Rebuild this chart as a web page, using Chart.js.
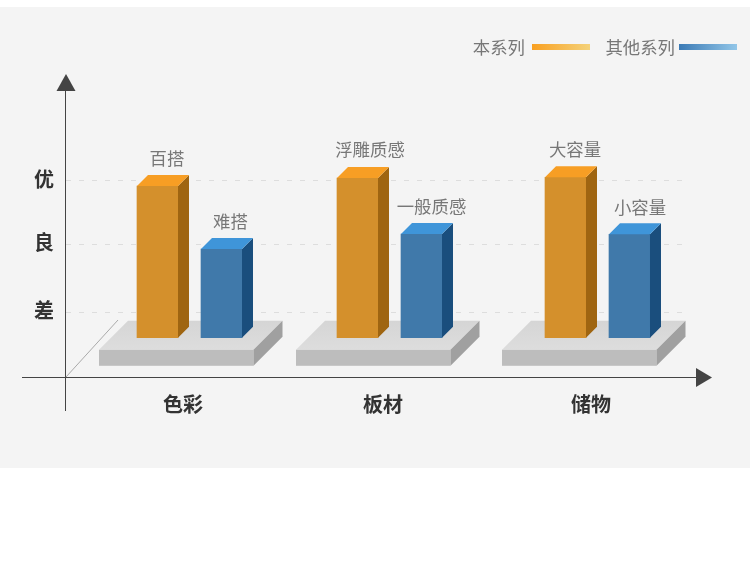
<!DOCTYPE html>
<html><head><meta charset="utf-8">
<style>html,body{margin:0;padding:0;background:#fff}canvas{display:block}</style>
<script src="https://cdn.jsdelivr.net/npm/chart.js@4/dist/chart.umd.min.js"></script>
</head><body><canvas id="c" width="750" height="567"></canvas>
<script>
const categories = ['色彩', '板材', '储物'];
const seriesNames = ['本系列', '其他系列'];
const thisSeries = [96.8, 101.9, 102.3];
const otherSeries = [56.6, 66.2, 66];
const thisLabels = ['百搭', '浮雕质感', '大容量'];
const otherLabels = ['难搭', '一般质感', '小容量'];
const qualityTicks = [16, 59.5, 100];
const qualityLabels = ['差', '良', '优'];

const FONT = '"Noto Sans CJK SC", sans-serif';
const DEPTH = 11;
const groupNudge = [20.17, 13.5, 14.83];
const platformLeft = [-90.5, -93.5, -95.5];
const labelNudge = [[-0.5, 2.5, -0.5], [-1, 0, 0.5]];
const labelLift = [[1, 2, 1], [1, 1, 0.5]];

class NudgedCategory extends Chart.CategoryScale {
  getPixelForValue(v) {
    const i = typeof v === 'number' ? v : this.parse(v);
    return super.getPixelForValue(v) + (groupNudge[i] || 0);
  }
}
NudgedCategory.id = 'nudgedCategory';
NudgedCategory.defaults = Chart.CategoryScale.defaults;
Chart.register(NudgedCategory);

function poly(ctx, pts, fill) {
  ctx.beginPath();
  pts.forEach((p, i) => i ? ctx.lineTo(p[0], p[1]) : ctx.moveTo(p[0], p[1]));
  ctx.closePath();
  ctx.fillStyle = fill;
  ctx.fill();
}

const scenery = {
  id: 'scenery',
  beforeDraw(chart) {
    const { ctx } = chart;
    ctx.save();
    ctx.fillStyle = '#ffffff';
    ctx.fillRect(0, 0, 750, 567);
    ctx.fillStyle = '#f4f4f4';
    ctx.fillRect(0, 7, 750, 461);
    ctx.restore();
  },
  beforeDatasetsDraw(chart) {
    const { ctx, scales, chartArea } = chart;
    const base = scales.y.getPixelForValue(0);
    const ax = chartArea.bottom, lf = chartArea.left;
    ctx.save();
    // axes
    ctx.strokeStyle = '#444';
    ctx.lineWidth = 1;
    ctx.beginPath();
    ctx.moveTo(lf - 44, ax + 0.5); ctx.lineTo(chartArea.right + 12, ax + 0.5);
    ctx.moveTo(lf - 0.5, ax + 34); ctx.lineTo(lf - 0.5, chartArea.top);
    ctx.stroke();
    poly(ctx, [[lf, chartArea.top - 16], [lf - 9.5, chartArea.top + 1], [lf + 9.5, chartArea.top + 1]], '#444');
    poly(ctx, [[chartArea.right + 26, ax + 0.5], [chartArea.right + 10, ax - 9], [chartArea.right + 10, ax + 10]], '#444');
    ctx.strokeStyle = '#aaa';
    ctx.beginPath();
    ctx.moveTo(lf, ax); ctx.lineTo(lf + 52, ax - 57);
    ctx.stroke();
    // platforms
    categories.forEach((c, i) => {
      const x = scales.x.getPixelForValue(i) + platformLeft[i];
      const w = 154.5, d = 29;
      const top = base + 12, bot = base + 28;
      const g = ctx.createLinearGradient(0, top - d, 0, top);
      g.addColorStop(0, '#d5d5d5'); g.addColorStop(1, '#dddddd');
      poly(ctx, [[x, top], [x + d, top - d], [x + w + d, top - d], [x + w, top]], g);
      ctx.fillStyle = '#bdbdbd';
      ctx.fillRect(x, top, w, bot - top);
      poly(ctx, [[x + w, top], [x + w + d, top - d], [x + w + d, bot - d + 0], [x + w, bot]], '#a0a0a0');
    });
    ctx.restore();
  },
  afterDatasetsDraw(chart) {
    const { ctx } = chart;
    const topCol = ['#f79e24', '#3f95d9'];
    const sideCol = ['#9f6511', '#1a4e7d'];
    const texts = [thisLabels, otherLabels];
    ctx.save();
    chart.data.datasets.forEach((ds, di) => {
      chart.getDatasetMeta(di).data.forEach((bar, i) => {
        const l = bar.x - bar.width / 2, r = bar.x + bar.width / 2;
        poly(ctx, [[r, bar.y], [r + DEPTH, bar.y - DEPTH], [r + DEPTH, bar.base - DEPTH], [r, bar.base]], sideCol[di]);
        poly(ctx, [[l, bar.y], [l + DEPTH, bar.y - DEPTH], [r + DEPTH, bar.y - DEPTH], [r, bar.y]], topCol[di]);
        ctx.fillStyle = '#777';
        ctx.font = '17.4px ' + FONT;
        ctx.textAlign = 'center';
        ctx.textBaseline = 'middle';
        ctx.fillText(texts[di][i], bar.x + 10 + labelNudge[di][i], bar.y - DEPTH - 15.5 - labelLift[di][i]);
      });
    });
    // legend
    const sw = [[532, '#f9a021', '#f4d27a'], [679, '#3b7ab5', '#92c6e8']];
    seriesNames.forEach((name, i) => {
      ctx.fillStyle = '#777';
      ctx.font = '17.4px ' + FONT;
      ctx.textAlign = 'right';
      ctx.textBaseline = 'middle';
      ctx.fillText(name, sw[i][0] - (i ? 4 : 7), 47.5);
      const g = ctx.createLinearGradient(sw[i][0], 0, sw[i][0] + 58, 0);
      g.addColorStop(0, sw[i][1]); g.addColorStop(1, sw[i][2]);
      ctx.fillStyle = g;
      ctx.fillRect(sw[i][0], 44, 58, 6);
    });
    ctx.restore();
  }
};

new Chart(document.getElementById('c'), {
  type: 'bar',
  data: {
    labels: categories,
    datasets: [
      { label: seriesNames[0], data: thisSeries, backgroundColor: '#d4902c' },
      { label: seriesNames[1], data: otherSeries, backgroundColor: '#4079aa' }
    ]
  },
  plugins: [scenery],
  options: {
    responsive: false,
    animation: false,
    barThickness: 64,
    maxBarThickness: 41,
    layout: { padding: { top: 90, right: 64, left: 0, bottom: 0 } },
    plugins: { legend: { display: false }, tooltip: { enabled: false } },
    scales: {
      x: {
        type: 'nudgedCategory',
        grid: { display: false, drawTicks: false },
        border: { display: false },
        ticks: {
          color: '#333', padding: 15, labelOffset: -6.5, maxRotation: 0,
          font: { family: FONT, size: 20, weight: 'bold' }
        },
        afterFit(s) { s.height = 567 - 377; }
      },
      y: {
        min: -25, max: 158,
        afterBuildTicks(s) { s.ticks = qualityTicks.map(v => ({ value: v })); },
        grid: { color: '#dddddd', drawTicks: false, tickLength: 0 },
        border: { display: false, dash: [5, 8] },
        ticks: {
          color: '#333', padding: 12, labelOffset: -2,
          font: { family: FONT, size: 20, weight: 'bold' },
          callback(v) { return qualityLabels[qualityTicks.indexOf(v)]; }
        },
        afterFit(s) { s.width = 66; }
      }
    }
  }
});
</script></body></html>
